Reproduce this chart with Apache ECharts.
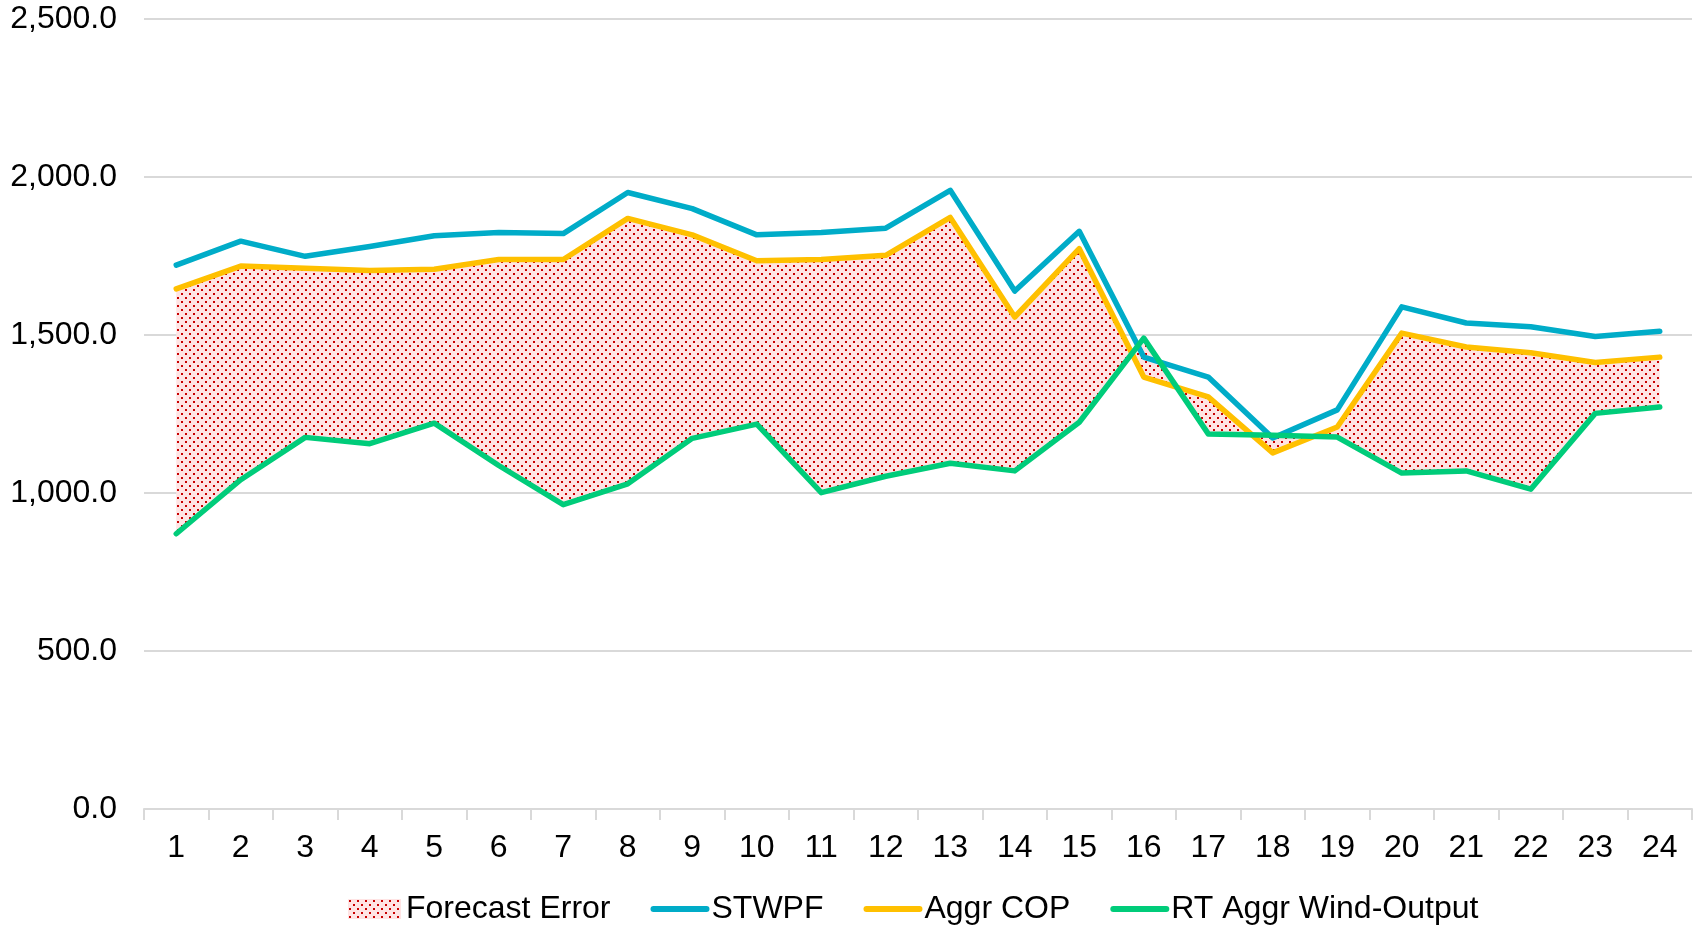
<!DOCTYPE html>
<html>
<head>
<meta charset="utf-8">
<script src="https://cdn.jsdelivr.net/npm/echarts@6/dist/echarts.min.js"></script>
<style>
  html, body { margin: 0; padding: 0; background: #fff; }
  #chart { width: 1698px; height: 927px; }
</style>
</head>
<body>
<div id="chart"></div>
<script>
const hours = ['1','2','3','4','5','6','7','8','9','10','11','12','13','14','15','16','17','18','19','20','21','22','23','24'];
const stwpf = [1721, 1797, 1749, 1780, 1814, 1824, 1821, 1951, 1900, 1817, 1824, 1838, 1958, 1639, 1828, 1430, 1367, 1174, 1263, 1589, 1538, 1526, 1495, 1512];
const aggrCop = [1646, 1718, 1711, 1704, 1708, 1739, 1739, 1869, 1817, 1735, 1739, 1752, 1872, 1557, 1773, 1367, 1304, 1127, 1209, 1506, 1462, 1444, 1413, 1430];
const rtWind = [871, 1042, 1176, 1156, 1221, 1087, 963, 1029, 1173, 1218, 1001, 1053, 1094, 1070, 1224, 1490, 1187, 1183, 1177, 1063, 1070, 1012, 1252, 1272];
const yTicks = [0, 500, 1000, 1500, 2000, 2500];

// error band = COP minus actual, stacked on top of actual
const forecastError = aggrCop.map((v, i) => v - rtWind[i]);

// dotted fill like the Excel pattern
const pat = document.createElement('canvas');
pat.width = 8; pat.height = 8;
const ctx = pat.getContext('2d');
ctx.fillStyle = '#FFE4E4';
ctx.fillRect(0, 0, 8, 8);
ctx.fillStyle = '#C80000';
ctx.fillRect(1, 1, 2, 2);
ctx.fillRect(5, 5, 2, 2);
const dotFill = { image: pat, repeat: 'repeat' };

const font = 'Liberation Sans, Arial, sans-serif';
const chart = echarts.init(document.getElementById('chart'));

const lineSeries = (name, data, color) => ({
  name, type: 'line', data,
  symbol: 'none',
  itemStyle: { color },
  lineStyle: { color, width: 5.5, cap: 'round', join: 'round' },
  z: 3
});
const lineLegend = name => ({
  name,
  itemStyle: { opacity: 0 },
  lineStyle: { width: 6, cap: 'round' }
});

chart.setOption({
  animation: false,
  textStyle: { fontFamily: font },
  grid: { left: 144, right: 6, top: 19, bottom: 118 },
  legend: {
    left: 343, top: 888,
    itemWidth: 53, itemHeight: 20, itemGap: 40,
    textStyle: { fontSize: 32, color: '#000', fontFamily: font },
    data: [
      { name: 'Forecast Error', icon: 'rect', itemStyle: { color: dotFill } },
      lineLegend('STWPF'), lineLegend('Aggr COP'), lineLegend('RT Aggr Wind-Output')
    ]
  },
  xAxis: {
    type: 'category',
    data: hours,
    boundaryGap: true,
    axisLine: { lineStyle: { color: '#D9D9D9', width: 2 } },
    axisTick: { show: true, length: 11, lineStyle: { color: '#D9D9D9', width: 2 } },
    axisLabel: { fontSize: 32, color: '#000', margin: 23 }
  },
  yAxis: {
    type: 'value',
    min: yTicks[0], max: yTicks[yTicks.length - 1], interval: 500,
    axisLine: { show: false },
    axisTick: { show: false },
    splitLine: { lineStyle: { color: '#D9D9D9', width: 2 } },
    axisLabel: {
      fontSize: 32, color: '#000', margin: 27,
      formatter: v => v.toLocaleString('en-US', { minimumFractionDigits: 1, maximumFractionDigits: 1 })
    }
  },
  series: [
    {
      name: 'base', type: 'line', data: rtWind,
      stack: 'err', stackStrategy: 'all',
      symbol: 'none', silent: true,
      lineStyle: { opacity: 0, width: 0 },
      z: 1
    },
    {
      name: 'Forecast Error', type: 'line', data: forecastError,
      stack: 'err', stackStrategy: 'all',
      symbol: 'none', silent: true,
      itemStyle: { color: dotFill },
      lineStyle: { opacity: 0, width: 0 },
      areaStyle: { color: dotFill, opacity: 1 },
      z: 1
    },
    lineSeries('STWPF', stwpf, '#00ACC8'),
    lineSeries('Aggr COP', aggrCop, '#FFC000'),
    lineSeries('RT Aggr Wind-Output', rtWind, '#00CC7A')
  ]
});
</script>
</body>
</html>
